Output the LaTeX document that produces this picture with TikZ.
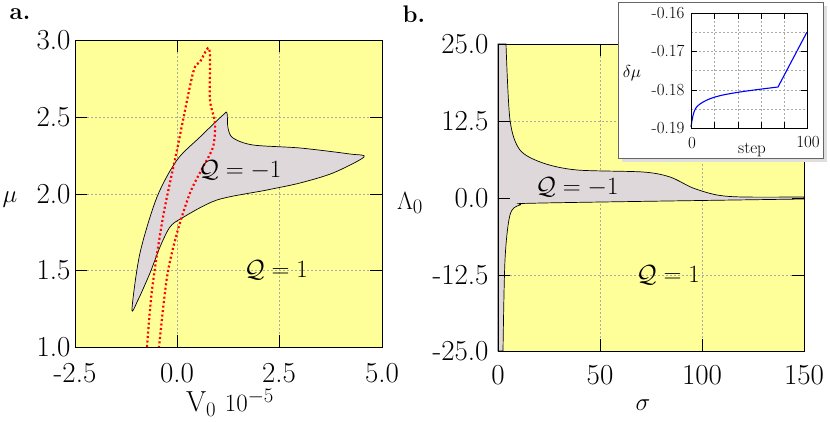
\documentclass[tikz,border=0pt]{standalone}
\usepackage{amsmath}
\usepackage{amssymb}
\usepackage{xcolor}
\definecolor{bgyellow}{RGB}{255,255,153}
\definecolor{regiongray}{RGB}{222,216,218}
\definecolor{gridgray}{RGB}{170,170,160}
\begin{document}
\begin{tikzpicture}[x=1pt,y=-1pt,
    big/.style={font=\fontsize{29}{30}\selectfont},
    qlabel/.style={font=\fontsize{37}{38}\selectfont},
    small/.style={font=\fontsize{17}{18}\selectfont},
    gridline/.style={gridgray,dash pattern=on 2pt off 2pt,line width=0.5pt},
    tickmark/.style={black,line width=0.8pt},
    boundary/.style={draw=black,line width=0.7pt}]
	\useasboundingbox (0,0) rectangle (830,422);
	% panel a
	\fill [bgyellow] (75,40) rectangle (382,347);
	\foreach \x in {177,279} \draw [gridline] (\x,40) -- (\x,347);
	\foreach \y in {117,194,270} \draw [gridline] (75,\y) -- (382,\y);
	\filldraw [fill=regiongray,boundary] plot [smooth cycle,tension=0.5] coordinates {(132,309) (140,253) (157,197) (177,160) (200,137) (223,115) (227,113) (228,128) (233,138) (253,145) (300,148) (350,154) (364,157) (333,173) (300,183) (267,190) (217,200) (182,218) (170,227) (160,247) (150,273) (138,300)};
	\draw [red,line width=2.2pt,dash pattern=on 2pt off 2.5pt] plot [smooth,tension=0.5] coordinates {(147,347) (152,290) (163,217) (177,150) (193,73) (200,62) (208,48) (210,57) (210,100) (215,123) (213,147) (203,167) (190,193) (177,233) (167,277) (159,347)};
	\foreach \x in {177,279} {\draw [tickmark] (\x,40) -- (\x,52); \draw [tickmark] (\x,347) -- (\x,335);}
	\foreach \y in {117,194,270} {\draw [tickmark] (75,\y) -- (87,\y); \draw [tickmark] (382,\y) -- (370,\y);}
	\draw [black,line width=0.8pt] (75,40) rectangle (382,347);
	\foreach \x/\lab in {75/-2.5,177/0.0,279/2.5,382/5.0} \node [big] (xa\x) at (\x,373) {\lab};
	\foreach \y/\lab in {40/3.0,117/2.5,194/2.0,270/1.5,347/1.0} \node [big,anchor=east] (ya\y) at (74,\y) {\lab};
	\node [big] (mua) at (10,200) {$\mu$};
	\node [big] (xlaba) at (230,403) {V$_0$ $10^{-5}$};
	\node [qlabel] (qma) at (240,170) {$\mathcal{Q}=-1$};
	\node [qlabel] (qpa) at (276,270) {$\mathcal{Q}=1$};
	\node [font=\fontsize{24}{26}\selectfont\bfseries] (pa) at (20,14) {a.};
	% panel b
	\fill [bgyellow] (498,44) rectangle (804,351);
	\foreach \x in {600,702} \draw [gridline] (\x,44) -- (\x,351);
	\foreach \y in {121,198,275} \draw [gridline] (498,\y) -- (804,\y);
	\filldraw [fill=regiongray,boundary] (498,44) -- (506,44) -- plot [smooth,tension=0.5] coordinates {(506,44) (510,120) (520,150) (543,163) (577,170) (643,172) (670,177) (693,188) (717,195) (743,197) (804,197)} -- (804,199) -- plot [smooth,tension=0.5] coordinates {(804,199) (543,203) (520,205) (510,215) (505,260) (503,351)} -- (498,351) -- cycle;
	\foreach \x in {600,702} {\draw [tickmark] (\x,44) -- (\x,56); \draw [tickmark] (\x,351) -- (\x,339);}
	\foreach \y in {121,198,275} {\draw [tickmark] (498,\y) -- (510,\y); \draw [tickmark] (804,\y) -- (792,\y);}
	\draw [black,line width=0.8pt] (498,44) rectangle (804,351);
	\foreach \x/\lab in {498/0,600/50,702/100,804/150} \node [big] (xb\x) at (\x,375) {\lab};
	\foreach \y/\lab in {44/25.0,121/12.5,198/0.0,275/-12.5,351/-25.0} \node [big,anchor=east] (yb\y) at (492,\y) {\lab};
	\node [big] (lam) at (410,203) {$\Lambda_0$};
	\node [big] (sig) at (643,405) {$\sigma$};
	\node [qlabel] (qmb) at (577,187) {$\mathcal{Q}=-1$};
	\node [qlabel] (qpb) at (668,275) {$\mathcal{Q}=1$};
	\node [font=\fontsize{24}{26}\selectfont\bfseries] (pb) at (414,14) {b.};
	% inset
	\fill [gray!25] (622,6) rectangle (827,162);
	\filldraw [fill=white,draw=gray!80!black,line width=0.8pt] (618,2) rectangle (823,158);
	\foreach \x in {714,738,761,784} \draw [gridline,line width=0.4pt] (\x,13) -- (\x,128);
	\foreach \y in {32,51,70,90,109} \draw [gridline,line width=0.4pt] (691,\y) -- (807,\y);
	\foreach \x in {714,738,761,784} {\draw [tickmark] (\x,13) -- (\x,19); \draw [tickmark] (\x,128) -- (\x,122);}
	\foreach \y in {51,90} {\draw [tickmark] (691,\y) -- (697,\y); \draw [tickmark] (807,\y) -- (801,\y);}
	\draw [blue,line width=1.1pt] plot [smooth,tension=0.6] coordinates {(691,127) (694,112) (700,104) (715,97) (740,92) (778,87)} -- (807,32);
	\draw [black,line width=0.8pt] (691,13) rectangle (807,128);
	\foreach \y/\lab in {13/-0.16,51/-0.17,90/-0.18,128/-0.19} \node [small,anchor=east] (yi\y) at (688,\y) {\lab};
	\node [small] (xi0) at (692,143) {0};
	\node [small] (xi100) at (808,142) {100};
	\node [small] (stepl) at (752,150) {step};
	\node [small] (dmu) at (632,73) {$\delta\mu$};
\end{tikzpicture}
\end{document}
